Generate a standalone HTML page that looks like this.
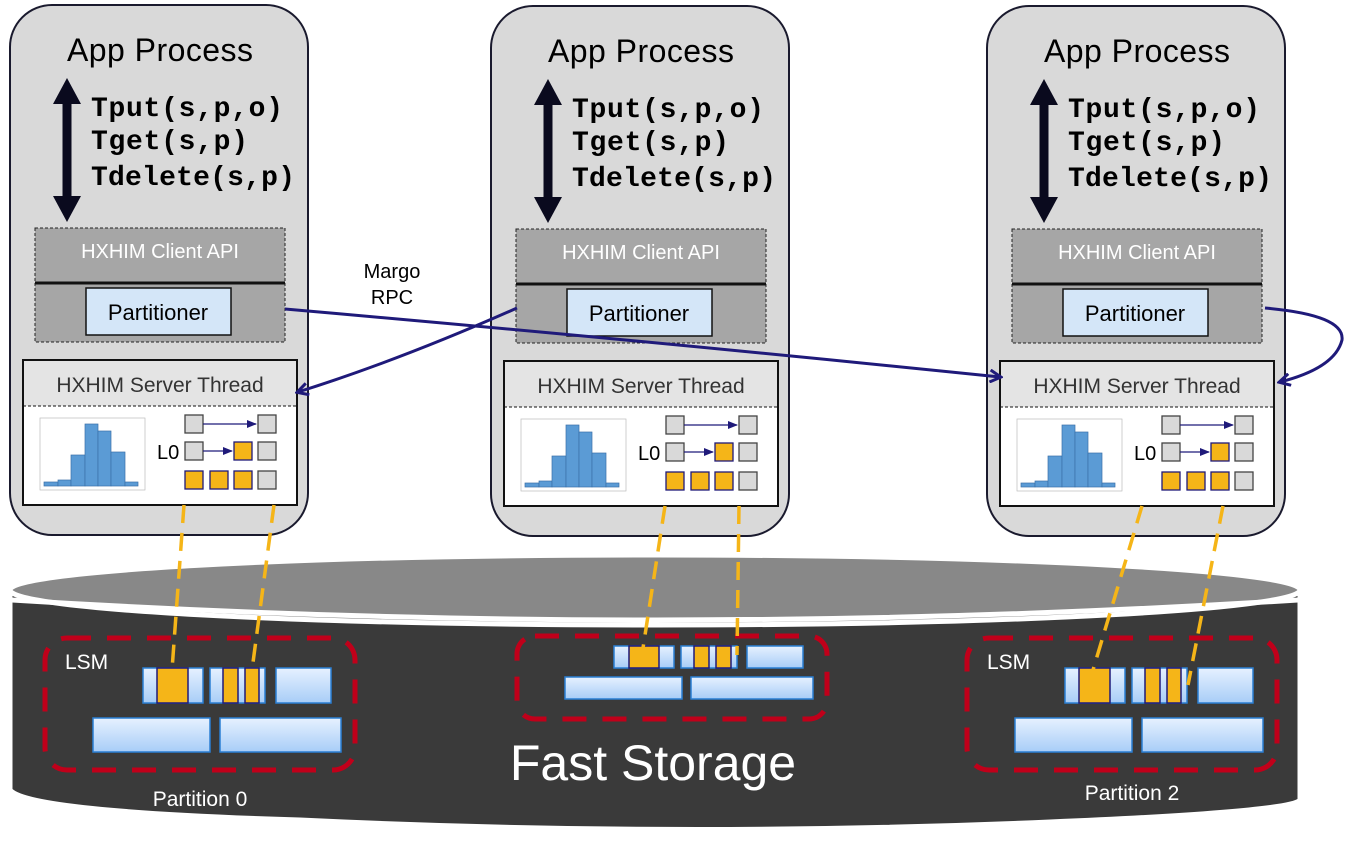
<!DOCTYPE html>
<html><head><meta charset="utf-8"><style>
html,body{margin:0;padding:0;background:#fff;}
svg{display:block;font-family:"Liberation Sans",sans-serif;}
</style></head><body>
<svg width="1353" height="844" viewBox="0 0 1353 844" xmlns="http://www.w3.org/2000/svg">
<defs>
<linearGradient id="lb" x1="0" y1="0" x2="0" y2="1"><stop offset="0" stop-color="#e6f1ff"/><stop offset="1" stop-color="#a8cdf7"/></linearGradient>
<marker id="ah" markerWidth="14" markerHeight="14" refX="11" refY="7" orient="auto" markerUnits="userSpaceOnUse"><path d="M1,1 L12,7 L1,13" fill="none" stroke="#1f1a7a" stroke-width="3"/></marker>
<marker id="ah2" markerWidth="10" markerHeight="10" refX="9" refY="5" orient="auto" markerUnits="userSpaceOnUse"><path d="M0,1 L10,5 L0,9 Z" fill="#1f1a7a"/></marker>
<g id="proc">
  <rect x="10" y="5" width="298" height="530" rx="42" fill="#d9d9d9" stroke="#1a1a2e" stroke-width="2"/>
  <text x="160" y="61" font-size="32" text-anchor="middle" fill="#000" textLength="186">App Process</text>
  <line x1="67" y1="100" x2="67" y2="200" stroke="#0a0a1e" stroke-width="9"/>
  <path d="M53,104 L67,78 L81,104 Z" fill="#0a0a1e"/>
  <path d="M53,196 L67,222 L81,196 Z" fill="#0a0a1e"/>
  <g font-family="Liberation Mono,monospace" font-size="28" fill="#000" font-weight="bold">
    <text x="91" y="116" textLength="192">Tput(s,p,o)</text>
    <text x="91" y="149" textLength="157">Tget(s,p)</text>
    <text x="91" y="185" textLength="204">Tdelete(s,p)</text>
  </g>
  <rect x="35" y="228" width="250" height="114" fill="#a6a6a6" stroke="#222" stroke-width="1" stroke-dasharray="3,2"/>
  <line x1="35" y1="283" x2="285" y2="283" stroke="#111" stroke-width="3"/>
  <text x="160" y="258" font-size="20" text-anchor="middle" fill="#fff">HXHIM Client API</text>
  <rect x="86" y="288" width="145" height="47" fill="#d4e6f8" stroke="#111" stroke-width="1.5"/>
  <text x="158" y="320" font-size="22" text-anchor="middle" fill="#000">Partitioner</text>
  <rect x="23" y="360" width="274" height="145" fill="#fff" stroke="#111" stroke-width="2"/>
  <rect x="24" y="361" width="272" height="45" fill="#e4e4e4"/>
  <line x1="23" y1="406" x2="297" y2="406" stroke="#111" stroke-width="1" stroke-dasharray="3,2"/>
  <text x="160" y="392" font-size="21" text-anchor="middle" fill="#333">HXHIM Server Thread</text>
  <rect x="40" y="418" width="105" height="72" fill="#fff" stroke="#bbb" stroke-width="0.7"/>
  <g fill="#5b9bd5" stroke="#3a70a8" stroke-width="0.7">
    <rect x="44" y="482" width="14" height="4"/>
    <rect x="58" y="480" width="13" height="6"/>
    <rect x="71" y="455" width="14" height="31"/>
    <rect x="85" y="424" width="13" height="62"/>
    <rect x="98" y="431" width="13" height="55"/>
    <rect x="111" y="452" width="14" height="34"/>
    <rect x="125" y="482" width="13" height="4"/>
  </g>
  <g stroke="#444" stroke-width="1.3" fill="#d9d9d9">
    <rect x="185" y="415" width="18" height="18"/><rect x="258" y="415" width="18" height="18"/>
    <rect x="185" y="442" width="18" height="18"/><rect x="258" y="442" width="18" height="18"/>
    <rect x="258" y="471" width="18" height="18"/>
  </g>
  <g stroke="#1f1a7a" stroke-width="1.3" fill="#f5b518">
    <rect x="234" y="442" width="18" height="18"/>
    <rect x="185" y="471" width="18" height="18"/><rect x="210" y="471" width="18" height="18"/><rect x="234" y="471" width="18" height="18"/>
  </g>
  <line x1="203" y1="424" x2="256" y2="424" stroke="#1f1a7a" stroke-width="1.3" marker-end="url(#ah2)"/>
  <line x1="203" y1="451" x2="232" y2="451" stroke="#1f1a7a" stroke-width="1.3" marker-end="url(#ah2)"/>
  <text x="157" y="459" font-size="20" fill="#000">L0</text>
</g>
</defs>
<use href="#proc"/>
<use href="#proc" transform="translate(481,1)"/>
<use href="#proc" transform="translate(977,1)"/>

<path d="M10,590 L10,790 Q30,812 300,820 Q676,838 1050,822 Q1290,812 1300,800 L1300,590 Z" fill="#3a3a3a" stroke="#fff" stroke-width="5"/>
<ellipse cx="655" cy="590" rx="645" ry="35" fill="#888" stroke="#fff" stroke-width="5"/>
<path d="M12,600 Q655,640 1298,600" fill="none" stroke="#fff" stroke-width="5"/>
<text x="653" y="780" font-size="50" text-anchor="middle" fill="#fff">Fast Storage</text>

<rect x="45" y="638" width="310" height="132" rx="22" fill="none" stroke="#c0001a" stroke-width="5" stroke-dasharray="24,16"/>
<text x="65" y="669" font-size="21" fill="#fff">LSM</text>
<g stroke="#2a7fd4" stroke-width="1.5" fill="url(#lb)">
<rect x="143" y="668" width="60" height="35"/><rect x="210" y="668" width="55" height="35"/><rect x="276" y="668" width="55" height="35"/>
<rect x="93" y="718" width="117" height="34"/><rect x="220" y="718" width="121" height="34"/>
</g>
<g stroke="#1f1a7a" stroke-width="1.5" fill="#f5b518">
<rect x="157" y="668" width="31" height="35"/><rect x="223" y="668" width="15" height="35"/><rect x="245" y="668" width="14" height="35"/>
</g>
<text x="200" y="806" font-size="21" text-anchor="middle" fill="#fff">Partition 0</text>

<rect x="517" y="636" width="310" height="83" rx="18" fill="none" stroke="#c0001a" stroke-width="5" stroke-dasharray="24,16"/>
<g stroke="#2a7fd4" stroke-width="1.5" fill="url(#lb)">
<rect x="614" y="646" width="60" height="22"/><rect x="681" y="646" width="56" height="22"/><rect x="747" y="646" width="56" height="22"/>
<rect x="565" y="677" width="117" height="22"/><rect x="691" y="677" width="122" height="22"/>
</g>
<g stroke="#1f1a7a" stroke-width="1.5" fill="#f5b518">
<rect x="629" y="646" width="30" height="22"/><rect x="694" y="646" width="15" height="22"/><rect x="716" y="646" width="15" height="22"/>
</g>

<rect x="967" y="638" width="310" height="132" rx="22" fill="none" stroke="#c0001a" stroke-width="5" stroke-dasharray="24,16"/>
<text x="987" y="669" font-size="21" fill="#fff">LSM</text>
<g stroke="#2a7fd4" stroke-width="1.5" fill="url(#lb)">
<rect x="1065" y="668" width="60" height="35"/><rect x="1132" y="668" width="55" height="35"/><rect x="1198" y="668" width="55" height="35"/>
<rect x="1015" y="718" width="117" height="34"/><rect x="1142" y="718" width="121" height="34"/>
</g>
<g stroke="#1f1a7a" stroke-width="1.5" fill="#f5b518">
<rect x="1079" y="668" width="31" height="35"/><rect x="1145" y="668" width="15" height="35"/><rect x="1167" y="668" width="14" height="35"/>
</g>
<text x="1132" y="800" font-size="21" text-anchor="middle" fill="#fff">Partition 2</text>

<g stroke="#f5b518" stroke-width="3.5" stroke-dasharray="18,10" fill="none">
<line x1="184" y1="505" x2="172" y2="670"/>
<line x1="274" y1="505" x2="252" y2="670"/>
<line x1="665" y1="506" x2="643" y2="648"/>
<line x1="739" y1="506" x2="737" y2="655"/>
<line x1="1142" y1="506" x2="1093" y2="670"/>
<line x1="1223" y1="506" x2="1188" y2="685"/>
</g>

<g stroke="#1f1a7a" stroke-width="3" fill="none">
<path d="M285,309 Q640,340 1000,377" marker-end="url(#ah)"/>
<path d="M517,308 Q400,360 298,392" marker-end="url(#ah)"/>
<path d="M1265,308 Q1345,315 1342,340 Q1335,368 1280,382" marker-end="url(#ah)"/>
</g>
<text x="392" y="278" font-size="20" text-anchor="middle" fill="#000">Margo</text>
<text x="392" y="304" font-size="20" text-anchor="middle" fill="#000">RPC</text>
</svg>
</body></html>
